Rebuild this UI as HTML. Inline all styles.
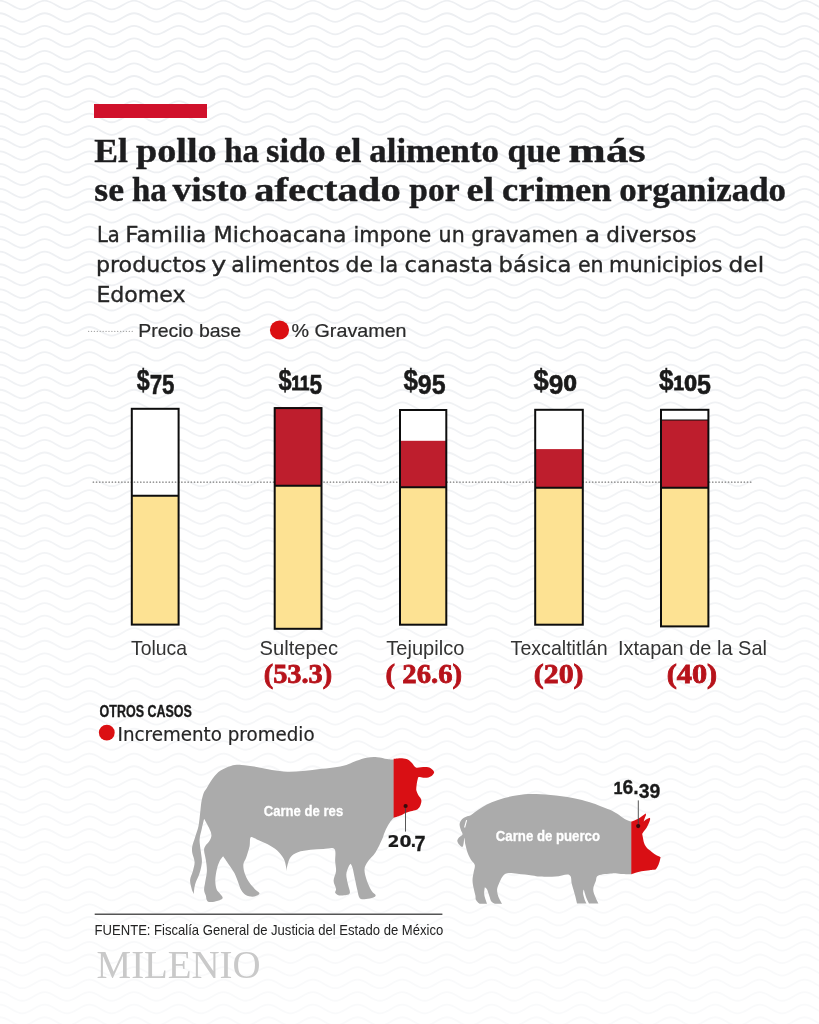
<!DOCTYPE html>
<html lang="es"><head><meta charset="utf-8"><title>El pollo ha sido el alimento que más se ha visto afectado por el crimen organizado</title>
<style>
html,body{margin:0;padding:0;background:#fff}
body{width:819px;height:1024px;overflow:hidden}
svg{display:block}
.hd{font-family:"Liberation Serif",serif;font-weight:bold;font-size:34.5px;fill:#1d1d1f;stroke:#1d1d1f;stroke-width:.4px}
.sub{font-family:"DejaVu Sans","Liberation Sans",sans-serif;font-size:21.2px;fill:#262626;stroke:#262626;stroke-width:.35px}
.lg{font-family:"Liberation Sans",sans-serif;font-size:18.5px;fill:#2a2a2a;stroke:#2a2a2a;stroke-width:.2px}
.pr{font-family:"Liberation Sans",sans-serif;font-weight:bold;font-size:27.6px;fill:#1a1a1a;stroke:#1a1a1a;stroke-width:.5px}
.pr .sm{font-size:20.6px;stroke-width:1px}
.pr .zr{font-family:"DejaVu Sans","Liberation Sans",sans-serif;font-size:20.8px;stroke-width:.7px}
.pr .dl{font-size:28.8px}
.ct{font-family:"Liberation Sans",sans-serif;font-size:20.2px;fill:#333}
.pc{font-family:"Liberation Serif",serif;font-weight:bold;font-size:27px;fill:#b7131b;stroke:#b7131b;stroke-width:.8px}
.oc{font-family:"Liberation Sans",sans-serif;font-weight:bold;font-size:16px;fill:#1a1a1a;stroke:#1a1a1a;stroke-width:.35px}
.inc{font-family:"DejaVu Sans","Liberation Sans",sans-serif;font-size:19.3px;fill:#262626;stroke:#262626;stroke-width:.2px}
.an{font-family:"Liberation Sans",sans-serif;font-weight:bold;font-size:14.8px;fill:#fff;stroke:#fff;stroke-width:.3px}
.vl{font-family:"Liberation Sans",sans-serif;font-weight:bold;font-size:21px;fill:#1a1a1a;stroke:#1a1a1a;stroke-width:.3px}
.vl .vs{font-family:"DejaVu Sans","Liberation Sans",sans-serif;font-size:15.2px;stroke-width:.2px}
.vl .v1{font-size:16.8px;stroke-width:.6px}
.src{font-family:"Liberation Sans",sans-serif;font-size:14.4px;fill:#222}
.logo{font-family:"Liberation Serif",serif;font-size:39px;fill:#c9c9c9}
</style></head><body>
<svg width="819" height="1024" viewBox="0 0 819 1024">
<defs><linearGradient id="fade" x1="0" y1="0" x2="0" y2="1"><stop offset="0" stop-color="#fff" stop-opacity="0"/><stop offset="0.3" stop-color="#fff" stop-opacity="0.1"/><stop offset="1" stop-color="#fff" stop-opacity="0.7"/></linearGradient><path id="wv" d="M-44.70,-4.30c8.14,0 14.21,8.60 22.35,8.60s14.21,-8.60 22.35,-8.60s14.21,8.60 22.35,8.60s14.21,-8.60 22.35,-8.60s14.21,8.60 22.35,8.60s14.21,-8.60 22.35,-8.60s14.21,8.60 22.35,8.60s14.21,-8.60 22.35,-8.60s14.21,8.60 22.35,8.60s14.21,-8.60 22.35,-8.60s14.21,8.60 22.35,8.60s14.21,-8.60 22.35,-8.60s14.21,8.60 22.35,8.60s14.21,-8.60 22.35,-8.60s14.21,8.60 22.35,8.60s14.21,-8.60 22.35,-8.60s14.21,8.60 22.35,8.60s14.21,-8.60 22.35,-8.60s14.21,8.60 22.35,8.60s14.21,-8.60 22.35,-8.60s14.21,8.60 22.35,8.60s14.21,-8.60 22.35,-8.60s14.21,8.60 22.35,8.60s14.21,-8.60 22.35,-8.60s14.21,8.60 22.35,8.60s14.21,-8.60 22.35,-8.60s14.21,8.60 22.35,8.60s14.21,-8.60 22.35,-8.60s14.21,8.60 22.35,8.60s14.21,-8.60 22.35,-8.60s14.21,8.60 22.35,8.60s14.21,-8.60 22.35,-8.60s14.21,8.60 22.35,8.60s14.21,-8.60 22.35,-8.60s14.21,8.60 22.35,8.60s14.21,-8.60 22.35,-8.60s14.21,8.60 22.35,8.60s14.21,-8.60 22.35,-8.60s14.21,8.60 22.35,8.60s14.21,-8.60 22.35,-8.60s14.21,8.60 22.35,8.60s14.21,-8.60 22.35,-8.60s14.21,8.60 22.35,8.60" fill="none" stroke="#edeff2" stroke-width="1.8"/></defs>
<rect width="819" height="1024" fill="#fff"/>
<g>
<use href="#wv" y="5.00"/>
<use href="#wv" y="17.55"/>
<use href="#wv" y="30.10"/>
<use href="#wv" y="42.65"/>
<use href="#wv" y="55.20"/>
<use href="#wv" y="67.75"/>
<use href="#wv" y="80.30"/>
<use href="#wv" y="92.85"/>
<use href="#wv" y="105.40"/>
<use href="#wv" y="117.95"/>
<use href="#wv" y="130.50"/>
<use href="#wv" y="143.05"/>
<use href="#wv" y="155.60"/>
<use href="#wv" y="168.15"/>
<use href="#wv" y="180.70"/>
<use href="#wv" y="193.25"/>
<use href="#wv" y="205.80"/>
<use href="#wv" y="218.35"/>
<use href="#wv" y="230.90"/>
<use href="#wv" y="243.45"/>
<use href="#wv" y="256.00"/>
<use href="#wv" y="268.55"/>
<use href="#wv" y="281.10"/>
<use href="#wv" y="293.65"/>
<use href="#wv" y="306.20"/>
<use href="#wv" y="318.75"/>
<use href="#wv" y="331.30"/>
<use href="#wv" y="343.85"/>
<use href="#wv" y="356.40"/>
<use href="#wv" y="368.95"/>
<use href="#wv" y="381.50"/>
<use href="#wv" y="394.05"/>
<use href="#wv" y="406.60"/>
<use href="#wv" y="419.15"/>
<use href="#wv" y="431.70"/>
<use href="#wv" y="444.25"/>
<use href="#wv" y="456.80"/>
<use href="#wv" y="469.35"/>
<use href="#wv" y="481.90"/>
<use href="#wv" y="494.45"/>
<use href="#wv" y="507.00"/>
<use href="#wv" y="519.55"/>
<use href="#wv" y="532.10"/>
<use href="#wv" y="544.65"/>
<use href="#wv" y="557.20"/>
<use href="#wv" y="569.75"/>
<use href="#wv" y="582.30"/>
<use href="#wv" y="594.85"/>
<use href="#wv" y="607.40"/>
<use href="#wv" y="619.95"/>
<use href="#wv" y="632.50"/>
<use href="#wv" y="645.05"/>
<use href="#wv" y="657.60"/>
<use href="#wv" y="670.15"/>
<use href="#wv" y="682.70"/>
<use href="#wv" y="695.25"/>
<use href="#wv" y="707.80"/>
<use href="#wv" y="720.35"/>
<use href="#wv" y="732.90"/>
<use href="#wv" y="745.45"/>
<use href="#wv" y="758.00"/>
<use href="#wv" y="770.55"/>
<use href="#wv" y="783.10"/>
<use href="#wv" y="795.65"/>
<use href="#wv" y="808.20"/>
<use href="#wv" y="820.75"/>
<use href="#wv" y="833.30"/>
<use href="#wv" y="845.85"/>
<use href="#wv" y="858.40"/>
<use href="#wv" y="870.95"/>
<use href="#wv" y="883.50"/>
<use href="#wv" y="896.05"/>
<use href="#wv" y="908.60"/>
<use href="#wv" y="921.15"/>
<use href="#wv" y="933.70"/>
<use href="#wv" y="946.25"/>
<use href="#wv" y="958.80"/>
<use href="#wv" y="971.35"/>
<use href="#wv" y="983.90"/>
<use href="#wv" y="996.45"/>
<use href="#wv" y="1009.00"/>
<use href="#wv" y="1021.55"/>
</g>
<rect width="819" height="1024" fill="url(#fade)"/>
<rect x="94" y="104" width="113" height="14" fill="#d0112b"/>
<text class="hd" y="161.7"><tspan x="94.3" textLength="33.7" lengthAdjust="spacingAndGlyphs">El</tspan> <tspan x="136.0" textLength="80.7" lengthAdjust="spacingAndGlyphs">pollo</tspan> <tspan x="224.3" textLength="34.7" lengthAdjust="spacingAndGlyphs">ha</tspan> <tspan x="266.0" textLength="59.7" lengthAdjust="spacingAndGlyphs">sido</tspan> <tspan x="334.8" textLength="26.6" lengthAdjust="spacingAndGlyphs">el</tspan> <tspan x="369.3" textLength="129.7" lengthAdjust="spacingAndGlyphs">alimento</tspan> <tspan x="507.6" textLength="53.1" lengthAdjust="spacingAndGlyphs">que</tspan> <tspan x="568.6" textLength="77.1" lengthAdjust="spacingAndGlyphs">más</tspan></text>
<text class="hd" y="200.7"><tspan x="94.3" textLength="29.7" lengthAdjust="spacingAndGlyphs">se</tspan> <tspan x="132.0" textLength="34.7" lengthAdjust="spacingAndGlyphs">ha</tspan> <tspan x="172.6" textLength="74.8" lengthAdjust="spacingAndGlyphs">visto</tspan> <tspan x="254.3" textLength="146.4" lengthAdjust="spacingAndGlyphs">afectado</tspan> <tspan x="409.3" textLength="49.7" lengthAdjust="spacingAndGlyphs">por</tspan> <tspan x="466.6" textLength="27.4" lengthAdjust="spacingAndGlyphs">el</tspan> <tspan x="502.0" textLength="109.7" lengthAdjust="spacingAndGlyphs">crimen</tspan> <tspan x="619.3" textLength="166.7" lengthAdjust="spacingAndGlyphs">organizado</tspan></text>
<text class="sub" y="242.4"><tspan x="96.9" textLength="22.8" lengthAdjust="spacingAndGlyphs">La</tspan> <tspan x="125.3" textLength="81.1" lengthAdjust="spacingAndGlyphs">Familia</tspan> <tspan x="213.6" textLength="132.8" lengthAdjust="spacingAndGlyphs">Michoacana</tspan> <tspan x="353.6" textLength="77.8" lengthAdjust="spacingAndGlyphs">impone</tspan> <tspan x="438.6" textLength="26.1" lengthAdjust="spacingAndGlyphs">un</tspan> <tspan x="471.3" textLength="106.8" lengthAdjust="spacingAndGlyphs">gravamen</tspan> <tspan x="585.1" textLength="15.1" lengthAdjust="spacingAndGlyphs">a</tspan> <tspan x="606.3" textLength="90.1" lengthAdjust="spacingAndGlyphs">diversos</tspan></text>
<text class="sub" y="271.7"><tspan x="95.9" textLength="110.5" lengthAdjust="spacingAndGlyphs">productos</tspan> <tspan x="211.3" textLength="15.1" lengthAdjust="spacingAndGlyphs">y</tspan> <tspan x="231.3" textLength="108.4" lengthAdjust="spacingAndGlyphs">alimentos</tspan> <tspan x="345.6" textLength="27.5" lengthAdjust="spacingAndGlyphs">de</tspan> <tspan x="379.3" textLength="18.8" lengthAdjust="spacingAndGlyphs">la</tspan> <tspan x="404.6" textLength="88.5" lengthAdjust="spacingAndGlyphs">canasta</tspan> <tspan x="498.6" textLength="72.8" lengthAdjust="spacingAndGlyphs">básica</tspan> <tspan x="577.9" textLength="25.7" lengthAdjust="spacingAndGlyphs">en</tspan> <tspan x="609.1" textLength="113.3" lengthAdjust="spacingAndGlyphs">municipios</tspan> <tspan x="728.6" textLength="35.5" lengthAdjust="spacingAndGlyphs">del</tspan></text>
<text class="sub" y="302.0"><tspan x="96.4" textLength="89.2" lengthAdjust="spacingAndGlyphs">Edomex</tspan></text>
<line x1="88.6" y1="331.4" x2="134.2" y2="331.4" stroke="#aaa" stroke-width="1.4" stroke-linecap="round" stroke-dasharray="0.01 2.9"/>
<text class="lg" x="138.2" y="337.0" textLength="103.0" lengthAdjust="spacingAndGlyphs">Precio base</text>
<circle cx="279.5" cy="330" r="9.6" fill="#db0f12"/>
<text class="lg" x="291.5" y="337.0" textLength="115.1" lengthAdjust="spacingAndGlyphs">% Gravamen</text>
<rect x="131.8" y="408.8" width="46.8" height="215.8" fill="#fff"/>
<rect x="274.7" y="408.1" width="46.8" height="220.7" fill="#fff"/>
<rect x="400.0" y="410.0" width="46.3" height="214.7" fill="#fff"/>
<rect x="535.2" y="409.8" width="47.6" height="214.9" fill="#fff"/>
<rect x="661.0" y="409.8" width="47.4" height="216.6" fill="#fff"/>
<line x1="93.4" y1="482.2" x2="752" y2="482.2" stroke="#999" stroke-width="1.7" stroke-linecap="round" stroke-dasharray="0.01 3.15"/>
<rect x="131.8" y="495.7" width="46.8" height="128.9" fill="#fde293"/>
<line x1="131.8" y1="495.7" x2="178.6" y2="495.7" stroke="#0d0d0d" stroke-width="2"/>
<rect x="131.8" y="408.8" width="46.8" height="215.8" fill="none" stroke="#0d0d0d" stroke-width="2"/>
<rect x="274.7" y="407.1" width="46.8" height="78.6" fill="#be1e2d"/>
<rect x="274.7" y="485.7" width="46.8" height="143.1" fill="#fde293"/>
<line x1="274.7" y1="485.7" x2="321.5" y2="485.7" stroke="#0d0d0d" stroke-width="2"/>
<rect x="274.7" y="408.1" width="46.8" height="220.7" fill="none" stroke="#0d0d0d" stroke-width="2"/>
<rect x="400.0" y="440.8" width="46.3" height="46.4" fill="#be1e2d"/>
<rect x="400.0" y="487.2" width="46.3" height="137.5" fill="#fde293"/>
<line x1="400.0" y1="487.2" x2="446.3" y2="487.2" stroke="#0d0d0d" stroke-width="2"/>
<rect x="400.0" y="410.0" width="46.3" height="214.7" fill="none" stroke="#0d0d0d" stroke-width="2"/>
<rect x="535.2" y="449.1" width="47.6" height="38.6" fill="#be1e2d"/>
<rect x="535.2" y="487.7" width="47.6" height="137.0" fill="#fde293"/>
<line x1="535.2" y1="487.7" x2="582.8" y2="487.7" stroke="#0d0d0d" stroke-width="2"/>
<rect x="535.2" y="409.8" width="47.6" height="214.9" fill="none" stroke="#0d0d0d" stroke-width="2"/>
<rect x="661.0" y="420.0" width="47.4" height="67.7" fill="#be1e2d"/>
<line x1="661.0" y1="420.0" x2="708.4" y2="420.0" stroke="#0d0d0d" stroke-width="1.2"/>
<rect x="661.0" y="487.7" width="47.4" height="138.7" fill="#fde293"/>
<line x1="661.0" y1="487.7" x2="708.4" y2="487.7" stroke="#0d0d0d" stroke-width="2"/>
<rect x="661.0" y="409.8" width="47.4" height="216.6" fill="none" stroke="#0d0d0d" stroke-width="2"/>
<text class="pr" x="136.7" y="389.5" textLength="37.8" lengthAdjust="spacingAndGlyphs"><tspan class="dl" dy="0.3">$</tspan><tspan dy="4.6">7</tspan><tspan dy="0.0">5</tspan></text>
<text class="pr" x="278.5" y="389.5" textLength="43.5" lengthAdjust="spacingAndGlyphs"><tspan class="dl" dy="0.3">$</tspan><tspan class="sm" dy="-0.3">1</tspan><tspan class="sm" dy="0.0">1</tspan><tspan dy="4.9">5</tspan></text>
<text class="pr" x="403.4" y="389.5" textLength="42.2" lengthAdjust="spacingAndGlyphs"><tspan class="dl" dy="0.3">$</tspan><tspan dy="4.6">9</tspan><tspan dy="0.0">5</tspan></text>
<text class="pr" x="533.4" y="389.5" textLength="43.6" lengthAdjust="spacingAndGlyphs"><tspan class="dl" dy="0.3">$</tspan><tspan dy="4.6">9</tspan><tspan class="zr" dy="-3.7">0</tspan></text>
<text class="pr" x="659.0" y="389.5" textLength="52.0" lengthAdjust="spacingAndGlyphs"><tspan class="dl" dy="0.3">$</tspan><tspan class="sm" dy="-0.3">1</tspan><tspan class="zr" dy="1.2">0</tspan><tspan dy="3.7">5</tspan></text>
<text class="ct" x="131.0" y="654.7" textLength="56.0" lengthAdjust="spacingAndGlyphs">Toluca</text>
<text class="ct" x="259.6" y="654.7" textLength="78.4" lengthAdjust="spacingAndGlyphs">Sultepec</text>
<text class="ct" x="386.3" y="654.7" textLength="78.1" lengthAdjust="spacingAndGlyphs">Tejupilco</text>
<text class="ct" x="510.6" y="654.7" textLength="97.0" lengthAdjust="spacingAndGlyphs">Texcaltitlán</text>
<text class="ct" x="618.0" y="654.7" textLength="149.0" lengthAdjust="spacingAndGlyphs">Ixtapan de la Sal</text>
<text class="pc" x="263.7" y="682.7" textLength="68.5" lengthAdjust="spacingAndGlyphs">(53.3)</text>
<text class="pc" x="385.6" y="682.7" textLength="76.5" lengthAdjust="spacingAndGlyphs">( 26.6)</text>
<text class="pc" x="533.8" y="682.7" textLength="49.7" lengthAdjust="spacingAndGlyphs">(20)</text>
<text class="pc" x="666.7" y="682.7" textLength="50.5" lengthAdjust="spacingAndGlyphs">(40)</text>
<text class="oc" x="99.6" y="717.3" textLength="92.2" lengthAdjust="spacingAndGlyphs">OTROS CASOS</text>
<circle cx="106.8" cy="732.7" r="7.9" fill="#db0f12"/>
<text class="inc" x="117.6" y="741.1" textLength="197.0" lengthAdjust="spacingAndGlyphs">Incremento promedio</text>
<path d="M241.2,764.9C245.5,765.1 251.4,766.0 256.5,766.9C261.6,767.8 266.8,769.2 271.9,770.0C277.0,770.8 282.2,771.6 287.3,771.8C292.4,772.0 297.6,771.4 302.7,771.0C307.8,770.6 313.0,769.8 318.1,769.2C323.2,768.6 328.8,768.1 333.5,767.4C338.2,766.7 342.5,766.0 346.3,764.9C350.1,763.8 353.1,762.0 356.5,760.8C359.9,759.6 363.4,758.3 366.8,757.7C370.2,757.1 373.7,757.0 377.1,757.2C380.5,757.4 384.5,758.6 387.3,759.0C390.1,759.4 393.9,759.7 393.9,759.7C393.9,759.7 393.9,817.8 393.9,817.8C393.9,817.8 391.5,820.1 390.3,821.8C389.1,823.5 387.6,826.1 386.6,828.0C385.6,829.9 385.2,831.1 384.4,833.0C383.6,834.9 383.5,836.3 382.0,839.5C380.5,842.7 378.0,848.5 375.6,852.2C373.2,855.9 369.6,858.8 367.7,861.7C365.8,864.6 364.6,866.5 364.5,869.7C364.4,872.9 365.7,877.2 366.9,880.8C368.1,884.4 370.2,888.7 371.7,891.1C373.1,893.5 375.3,894.0 375.6,895.1C375.9,896.2 374.9,896.9 373.3,897.5C371.7,898.1 368.4,898.9 366.1,899.0C363.9,899.1 361.2,899.8 359.8,898.3C358.4,896.8 358.2,893.5 357.4,890.3C356.6,887.1 355.8,882.9 355.0,879.2C354.2,875.5 353.3,870.7 352.6,868.1C351.9,865.5 350.7,863.7 350.7,863.7C350.7,863.7 349.4,864.7 348.7,866.5C348.0,868.3 346.4,871.5 346.3,874.4C346.2,877.3 347.3,881.0 347.9,884.0C348.5,887.0 350.2,890.9 349.9,892.7C349.6,894.6 348.1,894.7 346.3,895.1C344.5,895.5 341.0,895.8 339.1,895.4C337.2,895.0 335.7,893.8 335.2,892.7C334.7,891.6 336.3,890.7 336.0,888.7C335.7,886.7 333.6,883.7 333.6,880.8C333.6,877.9 335.7,874.5 336.0,871.3C336.3,868.1 335.5,865.4 335.2,861.7C334.9,858.0 336.4,851.1 334.4,849.0C332.4,846.9 327.3,848.9 323.3,849.0C319.3,849.1 314.8,849.3 310.6,849.8C306.4,850.3 301.2,851.0 297.9,852.2C294.6,853.4 292.4,854.9 290.7,857.0C289.0,859.1 288.2,862.5 287.5,864.9C286.8,867.3 286.4,871.6 286.4,871.6C286.4,871.6 286.5,868.7 286.0,866.5C285.5,864.3 285.1,861.2 283.6,858.6C282.1,856.0 279.9,853.0 277.2,850.6C274.5,848.2 271.1,846.2 267.7,844.3C264.3,842.4 259.7,840.6 256.9,839.4C254.1,838.2 251.9,836.1 250.7,837.2C249.5,838.3 250.3,842.8 249.6,846.2C248.8,849.6 247.2,854.4 246.2,857.4C245.2,860.4 243.7,861.6 243.4,864.2C243.1,866.8 243.7,870.1 244.6,873.1C245.5,876.1 247.3,879.5 249.0,882.1C250.7,884.7 253.0,887.1 254.7,888.9C256.4,890.7 258.6,891.8 259.2,892.8C259.8,893.8 259.1,894.5 258.0,895.1C256.9,895.8 254.5,896.7 252.4,896.7C250.3,896.7 247.6,896.2 245.7,895.1C243.8,894.0 242.3,891.8 241.2,890.0C240.1,888.2 240.0,887.2 238.9,884.4C237.8,881.6 236.3,876.7 234.4,873.1C232.5,869.5 229.6,865.8 227.7,863.0C225.8,860.2 223.2,856.3 223.2,856.3C223.2,856.3 220.8,858.7 219.8,860.8C218.8,862.9 217.8,865.5 217.0,868.7C216.2,871.9 215.4,876.5 215.3,879.9C215.2,883.3 215.8,886.6 216.5,888.9C217.2,891.1 218.8,892.0 219.8,893.4C220.8,894.8 222.4,896.3 222.6,897.3C222.8,898.3 222.4,898.9 221.0,899.6C219.6,900.4 216.4,901.5 214.2,901.8C211.9,902.1 208.9,902.2 207.5,901.2C206.1,900.2 206.4,897.5 205.8,895.6C205.2,893.7 204.2,892.2 204.1,890.0C204.0,887.8 204.7,885.3 205.2,882.1C205.7,878.9 206.8,874.6 206.9,870.9C207.0,867.2 206.3,863.1 205.8,859.7C205.3,856.3 204.2,853.0 204.1,850.7C204.0,848.5 204.3,847.9 205.2,846.2C206.1,844.5 208.7,842.5 209.7,840.6C210.7,838.7 211.5,837.0 211.4,834.9C211.3,832.8 210.4,830.9 209.2,828.2C208.0,825.5 204.1,818.7 204.1,818.7C204.1,818.7 202.7,824.8 201.9,828.2C201.2,831.7 199.8,835.6 199.6,839.4C199.4,843.1 200.3,847.0 200.7,850.7C201.1,854.5 202.1,858.2 201.9,861.9C201.7,865.6 200.7,869.4 199.6,873.1C198.5,876.9 196.1,880.9 195.1,884.4C194.1,887.9 193.8,893.9 193.8,893.9C193.8,893.9 192.3,891.2 191.7,888.9C191.1,886.6 189.9,882.9 190.1,879.9C190.3,876.9 192.2,873.9 192.9,870.9C193.7,867.9 194.7,864.9 194.6,861.9C194.5,858.9 192.7,855.5 192.3,852.9C191.9,850.3 191.8,848.8 192.3,846.2C192.8,843.6 194.1,840.6 195.1,837.2C196.1,833.8 197.7,830.1 198.5,826.0C199.3,821.9 199.7,816.4 200.2,812.5C200.7,808.6 200.8,805.6 201.3,802.4C201.9,799.2 202.6,795.7 203.5,793.4C204.4,791.1 204.9,791.0 206.5,788.5C208.1,786.0 210.6,781.2 212.9,778.2C215.2,775.2 217.6,772.5 220.6,770.5C223.6,768.5 227.5,766.8 230.9,765.9C234.3,765.0 236.9,764.7 241.2,764.9Z" fill="#ababab"/>
<path d="M393.6,758.8C393.6,758.8 399.6,758.1 402.0,758.2C404.4,758.3 406.1,758.7 407.8,759.5C409.5,760.3 410.9,761.9 412.2,763.2C413.5,764.6 414.4,766.9 415.9,767.6C417.4,768.3 419.2,767.3 421.0,767.2C422.8,767.1 425.2,766.8 426.9,767.0C428.6,767.2 430.1,767.9 431.3,768.7C432.5,769.5 433.9,770.9 434.1,772.0C434.3,773.1 433.3,774.4 432.4,775.3C431.4,776.2 429.9,777.1 428.4,777.5C426.9,777.9 424.8,777.9 423.2,777.8C421.6,777.7 419.7,776.9 418.8,777.1C417.9,777.4 418.1,777.9 417.7,779.3C417.3,780.6 416.8,783.4 416.6,785.2C416.4,787.0 416.1,788.7 416.3,790.3C416.6,791.9 417.4,793.4 418.1,794.7C418.8,796.1 420.1,797.3 420.7,798.4C421.2,799.5 421.5,800.0 421.4,801.3C421.3,802.6 420.7,805.0 419.9,806.4C419.1,807.8 418.1,808.9 416.6,809.7C415.1,810.5 412.6,810.7 410.8,811.2C409.0,811.8 407.3,812.3 405.6,813.0C403.9,813.7 402.5,814.8 400.5,815.6C398.5,816.4 393.6,817.8 393.6,817.8C393.6,817.8 393.6,758.8 393.6,758.8Z" fill="#d90f14"/>
<path d="M532.0,794.1C526.5,794.1 522.4,794.6 517.6,795.3C512.9,796.0 507.8,797.0 503.5,798.2C499.2,799.4 495.3,800.8 491.8,802.3C488.3,803.8 485.2,805.4 482.5,807.0C479.8,808.6 477.4,810.3 475.4,811.7C473.4,813.1 472.2,814.4 470.7,815.2C469.1,816.0 467.6,816.0 466.1,816.7C464.7,817.4 463.1,818.1 462.0,819.3C460.9,820.5 459.8,822.2 459.6,824.0C459.4,825.8 460.3,828.0 460.8,829.8C461.3,831.5 462.8,833.2 462.5,834.5C462.2,835.8 459.9,836.3 459.0,837.4C458.1,838.5 457.2,839.7 457.3,841.0C457.4,842.3 458.7,844.1 459.6,845.1C460.5,846.1 461.8,847.2 462.5,846.8C463.2,846.4 463.4,844.2 463.7,842.7C464.0,841.2 464.1,837.6 464.4,838.0C464.7,838.4 464.9,842.6 465.5,845.1C466.1,847.6 466.8,850.7 467.8,853.2C468.8,855.7 470.1,858.3 471.3,860.3C472.5,862.3 474.4,863.0 474.8,865.0C475.2,867.0 474.1,869.5 473.7,872.0C473.3,874.5 472.5,877.5 472.5,880.2C472.5,882.9 473.2,885.9 473.7,888.4C474.2,890.9 475.0,893.4 475.4,895.4C475.8,897.4 475.3,898.7 476.0,900.1C476.7,901.5 479.5,903.8 479.5,903.8C479.5,903.8 487.1,903.8 487.1,903.8C487.1,903.8 486.5,902.3 486.0,900.7C485.5,899.1 484.4,896.5 484.2,894.2C484.0,892.0 484.8,887.2 484.8,887.2C484.8,887.2 486.3,888.0 487.1,889.6C487.9,891.2 488.8,894.7 489.5,896.6C490.2,898.5 490.3,900.1 491.2,901.3C492.1,902.5 494.8,903.8 494.8,903.8C494.8,903.8 502.1,903.8 502.1,903.8C502.1,903.8 501.2,902.5 500.6,901.3C500.0,900.1 498.9,898.5 498.3,896.6C497.7,894.7 497.0,891.8 497.1,889.6C497.2,887.5 498.0,885.9 498.9,883.7C499.8,881.6 501.0,878.5 502.4,876.7C503.8,875.0 504.6,873.7 507.1,873.2C509.6,872.7 513.5,873.3 517.6,873.7C521.8,874.1 528.2,875.0 532.0,875.5C535.8,876.0 536.4,876.4 540.3,876.6C544.2,876.8 550.8,876.9 555.6,876.6C560.4,876.3 566.6,873.6 569.3,874.9C572.0,876.2 570.9,880.8 571.9,884.3C572.9,887.8 574.4,893.0 575.3,896.2C576.1,899.4 577.0,903.4 577.0,903.4C577.0,903.4 586.4,903.4 586.4,903.4C586.4,903.4 585.3,901.5 584.7,899.7C584.1,897.9 583.1,894.5 583.0,892.8C582.9,891.1 583.8,889.4 583.8,889.4C583.8,889.4 585.5,895.6 586.4,897.9C587.3,900.2 589.0,903.4 589.0,903.4C589.0,903.4 598.4,903.4 598.4,903.4C598.4,903.4 596.7,900.2 595.8,897.9C594.9,895.6 593.2,892.2 593.2,889.4C593.2,886.6 594.9,883.2 595.8,880.9C596.7,878.6 595.7,876.6 598.4,875.4C601.1,874.1 608.3,873.6 612.1,873.4C615.9,873.1 617.7,873.8 621.0,873.9C624.3,874.0 631.8,874.2 631.8,874.2C631.8,874.2 631.8,821.7 631.8,821.7C631.8,821.7 627.1,820.2 624.7,818.9C622.3,817.6 619.8,815.3 617.3,813.8C614.8,812.3 612.9,811.1 610.0,809.8C607.1,808.5 603.4,807.2 600.0,805.9C596.6,804.6 594.3,803.5 589.8,802.2C585.2,800.9 579.2,799.1 572.7,797.9C566.2,796.7 557.3,795.6 550.5,795.0C543.7,794.4 537.5,794.1 532.0,794.1Z" fill="#ababab"/>
<path d="M631.3,821.6C631.3,821.6 636.0,819.8 637.8,818.9C639.6,818.0 640.9,816.9 642.2,816.0C643.5,815.1 645.5,813.4 645.5,813.4C645.5,813.4 646.2,814.1 646.0,815.0C645.8,815.9 644.8,817.8 644.4,818.9C644.0,820.0 643.7,821.5 643.7,821.5C643.7,821.5 645.6,819.9 646.6,819.3C647.6,818.7 649.9,817.7 649.9,817.7C649.9,817.7 650.3,818.6 650.1,819.5C649.9,820.4 649.4,821.9 648.8,823.3C648.2,824.7 647.4,826.4 646.6,827.7C645.8,829.0 644.8,830.0 644.1,831.0C643.4,832.0 642.2,833.9 642.2,833.9C642.2,833.9 642.7,836.5 643.0,838.0C643.3,839.5 643.5,841.5 644.1,843.1C644.7,844.7 645.3,846.0 646.6,847.5C647.9,849.0 650.1,850.6 651.8,851.9C653.5,853.2 655.4,854.6 656.9,855.5C658.4,856.4 660.6,857.0 660.6,857.0C660.6,857.0 660.2,859.2 659.8,860.7C659.4,862.2 658.7,864.3 658.0,865.8C657.3,867.3 655.8,869.5 655.8,869.5C655.8,869.5 652.0,869.9 649.6,870.2C647.2,870.5 643.8,870.9 641.5,871.3C639.2,871.7 637.3,872.3 635.6,872.8C633.9,873.3 631.3,874.2 631.3,874.2C631.3,874.2 631.3,821.6 631.3,821.6Z" fill="#d90f14"/>
<path d="M466.6,820.2 L464.6,827.5" stroke="#fff" stroke-width="1.1" fill="none"/>
<text class="an" x="263.7" y="816.4" textLength="79.5" lengthAdjust="spacingAndGlyphs">Carne de res</text>
<text class="an" x="495.8" y="840.8" textLength="104.2" lengthAdjust="spacingAndGlyphs">Carne de puerco</text>
<line x1="405.5" y1="806" x2="405.5" y2="831.6" stroke="#444" stroke-width=".9"/><circle cx="405.6" cy="806" r="2.1" fill="#3a0a0a"/>
<line x1="638.3" y1="800.4" x2="638.3" y2="825.8" stroke="#444" stroke-width=".9"/><circle cx="638.2" cy="826.1" r="2.1" fill="#3a0a0a"/>
<text class="vl" x="387.4" y="846.8" textLength="24.0" lengthAdjust="spacingAndGlyphs"><tspan class="vs">20</tspan></text>
<text class="vl" x="410.6" y="846.8"><tspan class="vs">.</tspan></text>
<text class="vl" x="414.6" y="850.7" textLength="11.0" lengthAdjust="spacingAndGlyphs" style="font-size:22px">7</text>
<text class="vl" x="613.8" y="793.7" textLength="46.5" lengthAdjust="spacingAndGlyphs"><tspan class="v1">1</tspan>6.<tspan dy="3.8">39</tspan></text>
<line x1="94.7" y1="914.2" x2="442.4" y2="914.2" stroke="#555" stroke-width="1.4"/>
<text class="src" x="94.6" y="935.2" textLength="348.6" lengthAdjust="spacingAndGlyphs">FUENTE: Fiscalía General de Justicia del Estado de México</text>
<text class="logo" x="96.6" y="978.4" textLength="164.0" lengthAdjust="spacingAndGlyphs">MILENIO</text>
</svg></body></html>
